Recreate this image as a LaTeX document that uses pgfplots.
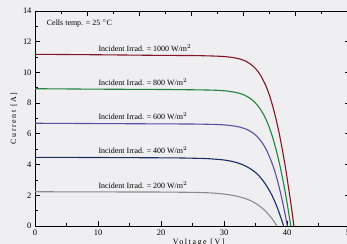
\documentclass[border=0pt]{standalone}
\usepackage{pgfplots}
\pgfplotsset{compat=1.18}
\usepackage{fontspec}
\setmainfont{Liberation Serif}
\newfontfamily\spaced[LetterSpace=20]{Liberation Serif}
\definecolor{bg}{RGB}{239,239,242}
\definecolor{cred}{RGB}{128,22,36}
\definecolor{cgreen}{RGB}{34,130,62}
\definecolor{cpurple}{RGB}{96,76,160}
\definecolor{cnavy}{RGB}{24,44,100}
\definecolor{cgray}{RGB}{140,140,140}
\begin{document}
\begin{tikzpicture}
\fill[bg] (-35bp,-18bp) rectangle (312bp,226bp);
\begin{axis}[at={(0,0)}, anchor=south west, scale only axis,
  width=315bp, height=215bp,
  xmin=0, xmax=50, ymin=0, ymax=14,
  xtick={0,10,...,50}, ytick={0,2,...,14},
  minor x tick num=1, minor y tick num=1,
  xtick pos=lower, ytick pos=both,
  tick align=inside, major tick length=5bp, minor tick length=3bp,
  axis line style={line width=0.9bp},
  every tick/.style={black, line width=0.8bp},
  ticklabel style={font=\fontsize{8.5}{9}\selectfont},
  /pgf/number format/assume math mode=true,
  xlabel={\spaced\fontsize{8}{9}\selectfont Voltage [V]},
  ylabel={\spaced\fontsize{8}{9}\selectfont Current [A]},
  xlabel style={at={(axis description cs:0.52,0)}, anchor=north, yshift=-9bp},
  ylabel style={at={(axis description cs:-0.0667,0.5)}, anchor=center},
  axis background/.style={fill=bg},
]
\addplot[cgray, line width=1.1bp, smooth] coordinates {(0,2.23)(10,2.22)(20.32,2.21)(22.93,2.20)(24.91,2.19)(26.89,2.17)(28.04,2.15)(29.51,2.10)(30.86,2.03)(32.03,1.94)(33.21,1.81)(34.17,1.66)(35.17,1.44)(35.92,1.21)(36.53,0.99)(37.04,0.77)(37.49,0.55)(37.88,0.33)(38.17,0.15)(38.40,0)};
\addplot[cnavy, line width=1.1bp, smooth] coordinates {(0,4.47)(10,4.46)(20,4.44)(23.17,4.43)(25.46,4.41)(27.20,4.39)(28.94,4.34)(29.96,4.30)(31.25,4.21)(32.45,4.07)(33.49,3.89)(34.55,3.63)(35.43,3.32)(36.34,2.87)(37.04,2.43)(37.62,1.99)(38.11,1.55)(38.54,1.11)(38.93,0.66)(39.22,0.31)(39.45,0)};
\addplot[cpurple, line width=1.1bp, smooth] coordinates {(0,6.69)(10,6.67)(20,6.65)(25,6.64)(27.75,6.62)(29.40,6.60)(30.66,6.56)(31.91,6.49)(32.65,6.43)(33.60,6.29)(34.48,6.09)(35.25,5.83)(36.05,5.43)(36.72,4.96)(37.43,4.30)(38.00,3.64)(38.47,2.98)(38.88,2.32)(39.25,1.65)(39.59,0.99)(39.84,0.46)(40.05,0)};
\addplot[cgreen, line width=1.1bp, smooth] coordinates {(0,8.94)(10,8.91)(20,8.89)(25,8.87)(27.92,8.85)(29.58,8.82)(30.83,8.77)(32.10,8.68)(32.84,8.59)(33.79,8.41)(34.68,8.14)(35.47,7.78)(36.29,7.25)(36.99,6.63)(37.74,5.75)(38.34,4.86)(38.85,3.98)(39.30,3.09)(39.71,2.21)(40.08,1.33)(40.36,0.62)(40.60,0)};
\addplot[cred, line width=1.1bp, smooth] coordinates {(0,11.18)(10,11.15)(20,11.11)(25,11.10)(28.86,11.06)(30.39,11.02)(31.56,10.96)(32.74,10.85)(33.43,10.74)(34.32,10.51)(35.16,10.18)(35.92,9.73)(36.71,9.07)(37.39,8.29)(38.13,7.18)(38.74,6.08)(39.26,4.97)(39.73,3.87)(40.15,2.76)(40.55,1.66)(40.85,0.77)(41.10,0)};
\node[anchor=west, inner sep=0pt, font=\fontsize{8}{9}\selectfont] at (axis cs:1.86,13.2) {Cells temp. = 25 $^\circ$C};
\node[anchor=west, inner sep=0pt, font=\fontsize{8}{9}\selectfont] at (axis cs:10.05,11.57) {Incident Irrad. = 1000 W/m$^2$};
\node[anchor=west, inner sep=0pt, font=\fontsize{8}{9}\selectfont] at (axis cs:10.05,9.36) {Incident Irrad. = 800 W/m$^2$};
\node[anchor=west, inner sep=0pt, font=\fontsize{8}{9}\selectfont] at (axis cs:10.05,7.16) {Incident Irrad. = 600 W/m$^2$};
\node[anchor=west, inner sep=0pt, font=\fontsize{8}{9}\selectfont] at (axis cs:10.05,4.93) {Incident Irrad. = 400 W/m$^2$};
\node[anchor=west, inner sep=0pt, font=\fontsize{8}{9}\selectfont] at (axis cs:10.05,2.67) {Incident Irrad. = 200 W/m$^2$};
\end{axis}
\begin{axis}[at={(0,0)}, anchor=south west, scale only axis,
  width=315bp, height=215bp,
  xmin=0, xmax=6.0577, ymin=0, ymax=1,
  axis x line*=top, hide y axis,
  xtick={0,...,6}, minor x tick num=1, xticklabels={},
  tick align=inside, major tick length=5bp, minor tick length=3bp,
  axis line style={line width=0.9bp, -},
  every tick/.style={black, line width=0.8bp},
]
\end{axis}
\pgfresetboundingbox
\useasboundingbox (-35bp,-18bp) rectangle (312bp,226bp);
\end{tikzpicture}
\end{document}
